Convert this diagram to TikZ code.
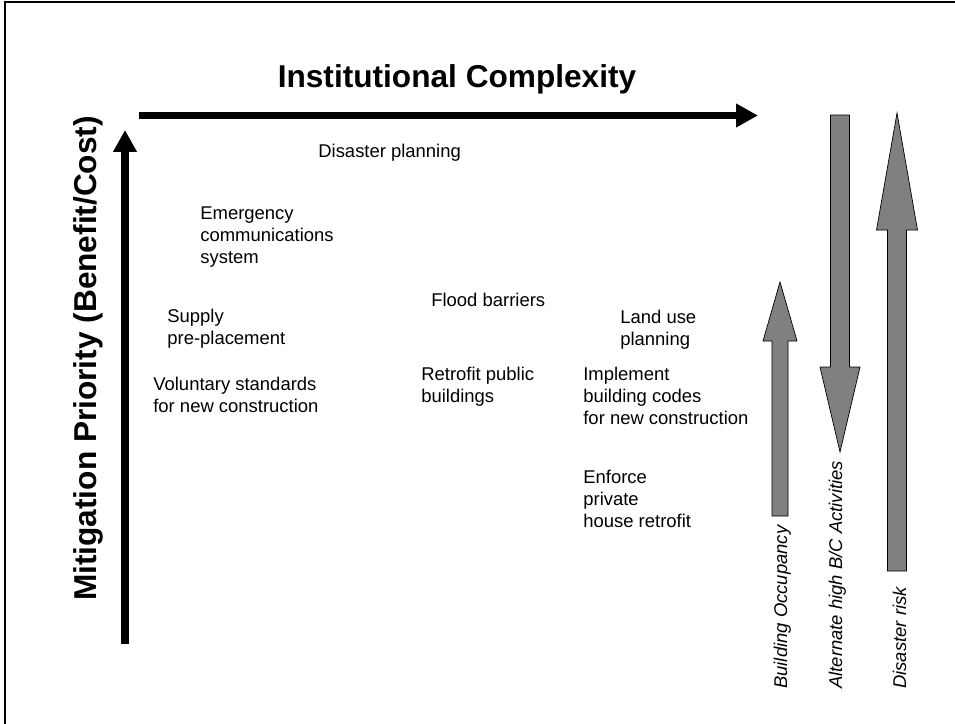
\documentclass[tikz,border=0pt]{standalone}
\usepackage{fontspec}
\setmainfont{Liberation Sans}
\usetikzlibrary{arrows.meta}
\tikzset{
  item/.style       = {anchor=base west, align=left, inner sep=0pt,
                       font=\fontsize{10.5}{12.5}\selectfont},
  axislabel/.style  = {inner sep=0pt, font=\fontsize{18}{21}\selectfont\bfseries},
  axis/.style       = {line width=0.15cm, -{Triangle[length=0.44cm,width=0.45cm]}},
  trend/.style      = {fill=gray, draw=black, line width=0.4pt},
  trendlabel/.style = {rotate=90, anchor=base west, inner sep=0pt,
                       font=\fontsize{10.5}{12.5}\selectfont\itshape}
}
% x, tail, head base, tip, half shaft, half head
\newcommand{\trendarrow}[6]{%
  \draw[trend] (#1-#5,#2) -- (#1-#5,#3) -- (#1-#6,#3) -- (#1,#4)
    -- (#1+#6,#3) -- (#1+#5,#3) -- (#1+#5,#2) -- cycle;}

\begin{document}
\begin{tikzpicture}[x=0.02cm,y=-0.02cm]

\useasboundingbox (0,0) rectangle (955,723);

% --- frame ----------------------------------------------------------------
\draw[line width=0.04cm] (5,2) rectangle (1000,800);

% --- the two axes ---------------------------------------------------------
\coordinate (xstart) at (139,115.5);
\coordinate (xend)   at (758,115.5);
\coordinate (ystart) at (125,644);
\coordinate (yend)   at (125,130);
\draw[axis] (xstart) -- (xend);
\draw[axis] (ystart) -- (yend);

\node[axislabel, anchor=base] (title) at (457,88) {Institutional Complexity};
\node[axislabel, anchor=base, rotate=90] (ylabel) at (96,358.5)
     {Mitigation Priority (Benefit/Cost)};

% --- the mitigation measures (placed by the base of their last line) -----
\node[item] (displan)   at (318,157) {Disaster planning};
\node[item] (emergency) at (200,263) {Emergency\\communications\\system};
\node[item] (supply)    at (167,344) {Supply\\pre-placement};
\node[item] (flood)     at (431,306) {Flood barriers};
\node[item] (landuse)   at (620,345) {Land use\\planning};
\node[item] (voluntary) at (153,412) {Voluntary standards\\for new construction};
\node[item] (retrofit)  at (421,402) {Retrofit public\\buildings};
\node[item] (implement) at (583,424) {Implement\\building codes\\for new construction};
\node[item] (enforce)   at (583,527) {Enforce\\private\\house retrofit};

% --- trends on the right --------------------------------------------------
\trendarrow{780}{516}{341}{282}{8}{17}
\trendarrow{840}{115}{367}{452}{9.5}{20}
\trendarrow{897}{571}{230}{113}{9.5}{20.5}

\node[trendlabel] (occlabel)  at (787,689) {Building Occupancy};
\node[trendlabel] (altlabel)  at (842,689) {Alternate high B/C Activities};
\node[trendlabel] (risklabel) at (906,689) {Disaster risk};

\end{tikzpicture}
\end{document}
